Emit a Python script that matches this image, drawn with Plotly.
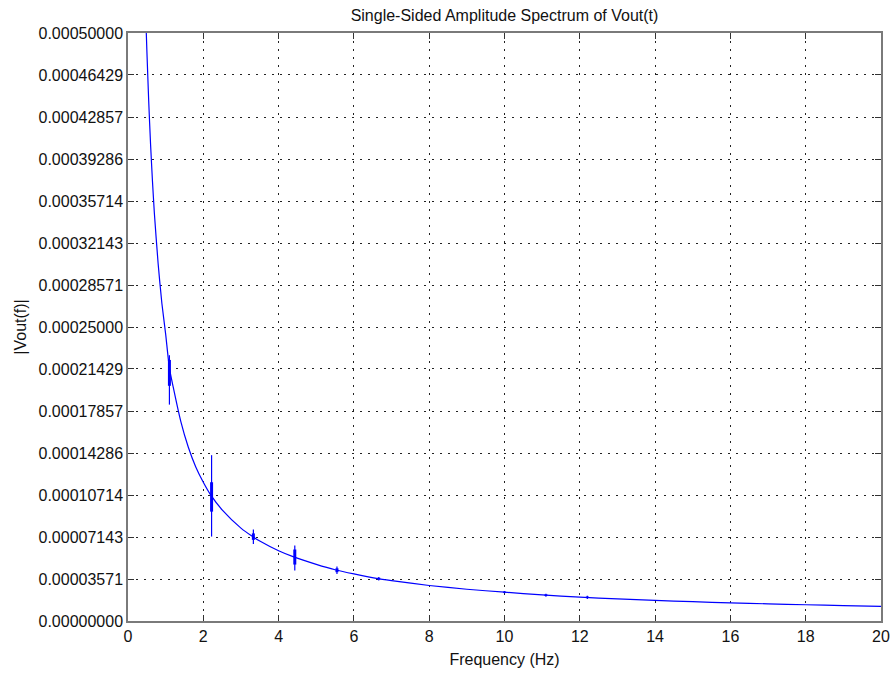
import plotly.graph_objects as go

# Smooth part of the single-sided amplitude spectrum |Vout(f)|
freq_hz = [0.48, 0.5, 0.55, 0.6, 0.65, 0.7, 0.8, 0.9, 1.0, 1.1, 1.2, 1.4, 1.6, 1.8,
           2.0, 2.2, 2.5, 3.0, 3.3, 3.5, 4.0, 4.4, 5.0, 5.5, 6.0, 6.6, 7.0, 8.0,
           9.0, 10.0, 11.0, 12.0, 13.0, 14.0, 15.0, 16.0, 17.0, 18.0, 19.0, 20.0]
amplitude = [0.000506, 0.000486, 0.000442, 0.000405, 0.000374, 0.000347, 0.000304,
             0.000270, 0.000244, 0.000215, 0.000199, 0.000170, 0.000148, 0.000131,
             0.000118, 0.000107, 0.0000945, 0.0000790, 0.0000720, 0.0000680,
             0.0000597, 0.0000545, 0.0000482, 0.0000436, 0.0000400, 0.0000362,
             0.0000343, 0.0000302, 0.0000270, 0.0000245, 0.0000222, 0.0000203,
             0.0000188, 0.0000175, 0.0000164, 0.0000154, 0.0000146, 0.0000138,
             0.0000131, 0.0000125]

# Ringing around the harmonics: full excursion and the dense core of each burst
spike_freq = [1.10, 2.22, 3.33, 4.43, 5.55, 6.66, 10.0, 11.1, 12.2]
spike_hi = [0.000226, 0.000141, 0.0000777, 0.0000641, 0.0000463, 0.0000375,
            0.0000255, 0.0000232, 0.0000215]
spike_lo = [0.000184, 0.0000718, 0.0000655, 0.0000429, 0.0000400, 0.0000345,
            0.0000235, 0.0000207, 0.0000188]
core_hi = [0.000222, 0.000118, 0.0000745, 0.0000608, 0.0000448, 0.0000368,
           0.0000250, 0.0000226, 0.0000208]
core_lo = [0.000200, 0.0000930, 0.0000690, 0.0000480, 0.0000415, 0.0000352,
           0.0000240, 0.0000213, 0.0000195]

x_ticks = [0, 2, 4, 6, 8, 10, 12, 14, 16, 18, 20]
y_tick_labels = ["0.00000000", "0.00003571", "0.00007143", "0.00010714",
                 "0.00014286", "0.00017857", "0.00021429", "0.00025000",
                 "0.00028571", "0.00032143", "0.00035714", "0.00039286",
                 "0.00042857", "0.00046429", "0.00050000"]
y_ticks = [float(s) for s in y_tick_labels]

BLUE = "#0000ff"
FONT = "Liberation Sans, Arial, Helvetica, sans-serif"


def segments(xs, lows, highs):
    px, py = [], []
    for x, lo, hi in zip(xs, lows, highs):
        px += [x, x, None]
        py += [lo, hi, None]
    return px, py


fig = go.Figure()

fig.add_trace(go.Scatter(
    x=freq_hz, y=amplitude, mode="lines",
    line=dict(color=BLUE, width=1.2, shape="spline", smoothing=0.6),
    hoverinfo="skip", showlegend=False,
))

sx, sy = segments(spike_freq, spike_lo, spike_hi)
fig.add_trace(go.Scatter(x=sx, y=sy, mode="lines",
                         line=dict(color=BLUE, width=1.2),
                         hoverinfo="skip", showlegend=False))

cx, cy = segments(spike_freq, core_lo, core_hi)
fig.add_trace(go.Scatter(x=cx, y=cy, mode="lines",
                         line=dict(color=BLUE, width=3),
                         hoverinfo="skip", showlegend=False))

axis_common = dict(
    showline=True, linecolor="#7a7a7a", linewidth=1.5, mirror="ticks",
    ticks="inside", ticklen=6, tickcolor="#333333", tickwidth=1,
    showgrid=True, gridcolor="#222222", gridwidth=1, griddash="2px,6px",
    zeroline=False, automargin=False,
    tickfont=dict(family=FONT, size=16, color="#111111"),
)

fig.update_xaxes(
    range=[0, 20], tickvals=x_ticks, ticktext=[str(v) for v in x_ticks],
    title=dict(text="Frequency (Hz)", font=dict(family=FONT, size=16, color="#111111"),
               standoff=10),
    **axis_common,
)
fig.update_yaxes(
    range=[0, 0.0005], tickvals=y_ticks, ticktext=y_tick_labels,
    title=dict(text="|Vout(f)|", font=dict(family=FONT, size=16, color="#111111"),
               standoff=8),
    **axis_common,
)

fig.update_layout(
    width=892, height=673,
    margin=dict(l=128, r=11, t=33, b=52, autoexpand=False),
    paper_bgcolor="white", plot_bgcolor="white",
    title=dict(text="Single-Sided Amplitude Spectrum of Vout(t)",
               font=dict(family=FONT, size=16, color="#111111"),
               x=0.5, xref="paper", xanchor="center",
               y=1 - 15 / 673, yref="container", yanchor="middle"),
)

fig.write_html("out.html")
